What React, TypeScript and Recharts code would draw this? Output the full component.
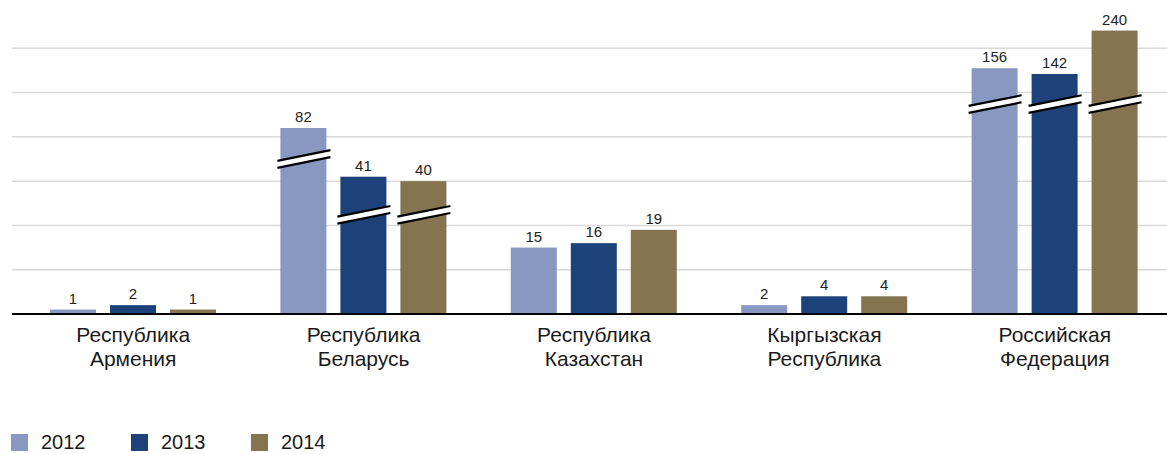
import React from 'react'
import { Bar, BarChart, CartesianGrid, LabelList, XAxis, YAxis } from 'recharts'

const categories = [
  ['Республика', 'Армения'],
  ['Республика', 'Беларусь'],
  ['Республика', 'Казахстан'],
  ['Кыргызская', 'Республика'],
  ['Российская', 'Федерация'],
]
const years = ['2012', '2013', '2014']

// real values (used for labels)
const values2012 = [1, 82, 15, 2, 156]
const values2013 = [2, 41, 16, 4, 142]
const values2014 = [1, 40, 19, 4, 240]

// heights as drawn on the broken axis
const shown2012 = [1, 42, 15, 2, 55.5]
const shown2013 = [2, 31, 16, 4, 54.2]
const shown2014 = [1, 30, 19, 4, 64]

// where the break mark sits on a broken bar (axis units), null = no break
const break2012 = [null, 35, null, null, 47.4]
const break2013 = [null, 22.4, null, null, 47.4]
const break2014 = [null, 22.4, null, null, 47.4]

const yTicks = [0, 10, 20, 30, 40, 50, 60]

const colors = ['#8898C1', '#1C4279', '#857450']
const FONT = '"Liberation Sans", Arial, Helvetica, sans-serif'

const data = categories.map((c, i) => ({
  name: c.join('\n'),
  v2012: values2012[i],
  v2013: values2013[i],
  v2014: values2014[i],
  s2012: shown2012[i],
  s2013: shown2013[i],
  s2014: shown2014[i],
  b2012: break2012[i],
  b2013: break2013[i],
  b2014: break2014[i],
}))

function makeShape(year: string) {
  return (props: any) => {
    const { x, y, width, height, fill, payload } = props
    const shown = payload['s' + year]
    const br = payload['b' + year]
    let mark = null
    if (br != null && height > 0) {
      const cy = y + height - (br * height) / shown
      const x1 = x - 3
      const x2 = x + width + 4
      const half = ((x2 - x1) * 0.2) / 2
      const g = 3.5
      mark = (
        <g>
          <polygon
            points={`${x1},${cy + half - g} ${x2},${cy - half - g} ${x2},${cy - half + g} ${x1},${cy + half + g}`}
            fill="#fff"
          />
          <line x1={x1} y1={cy + half - g} x2={x2} y2={cy - half - g} stroke="#000" strokeWidth={2.2} />
          <line x1={x1} y1={cy + half + g} x2={x2} y2={cy - half + g} stroke="#000" strokeWidth={2.2} />
        </g>
      )
    }
    return (
      <g>
        <rect x={x} y={y} width={width} height={height} fill={fill} />
        {mark}
      </g>
    )
  }
}

function CategoryTick(props: any) {
  const { x, y, payload } = props
  const lines = String(payload.value).split('\n')
  return (
    <text x={x} y={y} textAnchor="middle" fill="#1a1a1a" fontSize={21} fontFamily={FONT}>
      {lines.map((l, i) => (
        <tspan key={i} x={x} y={y + 20 + i * 24}>
          {l}
        </tspan>
      ))}
    </text>
  )
}

export default function App() {
  return (
    <div
      style={{
        position: 'absolute',
        left: 0,
        top: 0,
        width: 1167,
        height: 454,
        overflow: 'hidden',
        background: '#fff',
        fontFamily: FONT,
      }}
    >
      <BarChart
        width={1175}
        height={400}
        data={data}
        margin={{ top: 4, right: 0, left: 12, bottom: 0 }}
        barSize={46}
        barGap={14}
      >
        <CartesianGrid vertical={false} stroke="#d9d9d9" strokeWidth={1.5} horizontalValues={yTicks} />
        <XAxis
          dataKey="name"
          height={86}
          tickLine={false}
          axisLine={{ stroke: '#000', strokeWidth: 2 }}
          padding={{ left: 6, right: 5 }}
          tick={<CategoryTick />}
          interval={0}
        />
        <YAxis hide domain={[0, 70]} ticks={yTicks} />
        {years.map((yr, i) => (
          <Bar key={yr} dataKey={'s' + yr} fill={colors[i]} isAnimationActive={false} shape={makeShape(yr)}>
            <LabelList dataKey={'v' + yr} position="top" offset={6} fontSize={15} fill="#222" fontFamily={FONT} />
          </Bar>
        ))}
      </BarChart>
      <div style={{ position: 'absolute', left: 0, top: 425, height: 29, width: 1167 }}>
        {years.map((yr, i) => (
          <div
            key={yr}
            style={{ position: 'absolute', left: 11 + i * 120, top: 9, display: 'flex', alignItems: 'center' }}
          >
            <div style={{ width: 17, height: 17, background: colors[i] }} />
            <span style={{ marginLeft: 13, fontSize: 20, color: '#1a1a1a', lineHeight: '17px' }}>{yr}</span>
          </div>
        ))}
      </div>
    </div>
  )
}
